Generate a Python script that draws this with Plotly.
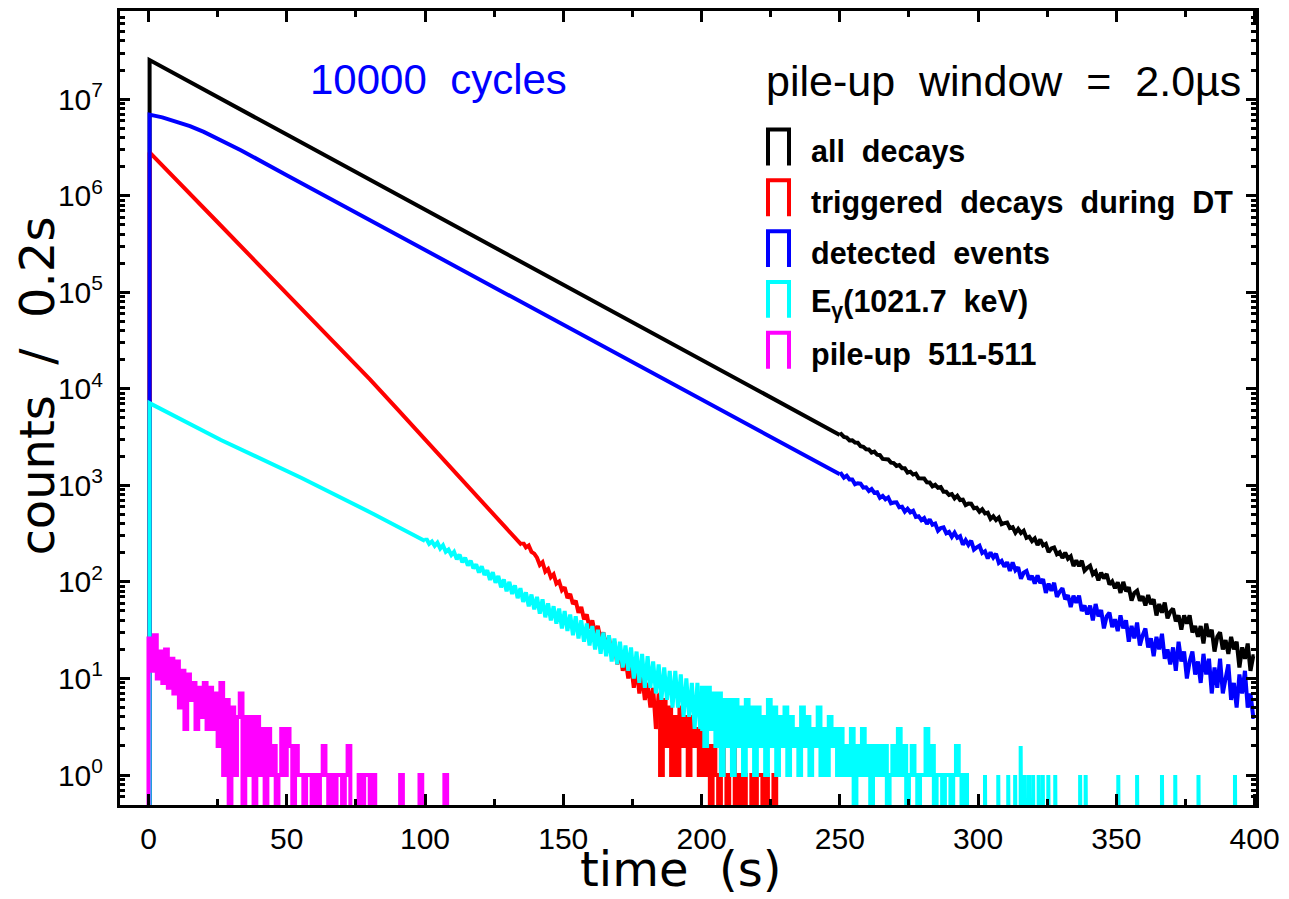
import plotly.graph_objects as go

# ---------------- data (counts per 0.2 s bin) ----------------
FLOOR = 0.1  # drawing level for empty bins (below visible range)

# smooth early parts (time s, counts)
black_head_t = [0.4, 50, 100, 150, 200, 250]
black_head_n = [2.535e7, 4.29e6, 7.16e5, 1.195e5, 2.0e4, 3330]

blue_head_t = [0.4, 5, 10, 15, 20, 25, 33.4, 50, 75, 100, 125, 150, 175, 200, 225, 250]
blue_head_n = [6.9e6, 6.46e6, 5.89e6, 5.25e6, 4.57e6, 3.89e6, 2.95e6, 1.63e6, 6.68e5,
               2.74e5, 1.12e5, 4.6e4, 1.88e4, 7.73e3, 3.16e3, 1.30e3]

red_head_t = [0.4, 25, 54, 80, 90, 100, 122, 135]
red_head_n = [2.8e6, 5.3e5, 7.4e4, 1.26e4, 6.15e3, 3.0e3, 600, 240]

cyan_head_t = [0.4, 26.2, 55.2, 81.7, 100]
cyan_head_n = [7100, 2950, 1200, 500, 265]

# noisy parts, 1 s bins
black_tail_start = 250
black_tail_n = [3399, 3173, 3119, 2916, 2933, 2772, 2759, 2543, 2505, 2362,
                2357, 2184, 2232, 2075, 2052, 1878, 1887, 1857, 1718, 1703,
                1589, 1622, 1506, 1501, 1356, 1385, 1293, 1320, 1186, 1186,
                1178, 1075, 1070, 978, 1014, 944, 960, 858, 857, 795,
                813, 732, 779, 705, 710, 625, 647, 645, 579, 586,
                533, 566, 513, 522, 450, 479, 437, 464, 396, 407,
                413, 361, 369, 323, 353, 321, 339, 286, 294, 265,
                282, 241, 275, 239, 248, 204, 222, 227, 194, 203,
                177, 201, 174, 184, 146, 167, 146, 166, 131, 140,
                147, 120, 128, 104, 125, 109, 121, 94, 101, 86,
                99, 77, 100, 80, 88, 64, 77, 81, 64, 71,
                57, 73, 59, 66, 45, 59, 48, 61, 42, 49,
                53, 39, 45, 32, 45, 37, 45, 30, 35, 27,
                35, 23, 37, 27, 32, 19, 27, 30, 20, 25,
                18, 27, 20, 24, 13, 21, 16, 23, 12, 17]

blue_tail_start = 250
blue_tail_n = [1319, 1200, 1258, 1151, 1151, 1028, 1053, 1044, 948, 953,
               876, 917, 837, 847, 742, 778, 716, 749, 652, 663,
               668, 594, 600, 535, 573, 526, 546, 471, 479, 436,
               458, 399, 444, 392, 402, 339, 362, 367, 319, 330,
               293, 324, 286, 297, 243, 271, 242, 267, 216, 228,
               237, 199, 208, 175, 202, 179, 196, 157, 165, 144,
               160, 130, 159, 132, 142, 108, 125, 130, 106, 115,
               96, 117, 97, 107, 77, 96, 81, 98, 70, 79,
               86, 66, 73, 55, 72, 61, 72, 50, 57, 46,
               57, 40, 59, 44, 51, 33, 44, 48, 34, 41,
               31, 45, 33, 40, 24, 35, 26, 38, 22, 28,
               33, 21, 26, 17, 27, 20, 29, 16, 20, 14,
               21, 12, 24, 15, 19, 10, 15, 19, 11, 15,
               9, 18, 11, 16, 7, 13, 8, 16, 7, 10,
               14, 6, 9, 5, 11, 7, 12, 5, 7, 4]

red_mid_start = 135
red_mid_n = [255, 228, 238, 205, 196, 178, 150, 160, 128, 136,
             112, 120, 96, 101, 82, 88, 68, 75, 59, 64,
             48, 55, 41, 46, 33, 40, 29, 35, 25, 30,
             20, 27, 17, 24, 14, 20, 12, 16, 10, 14,
             8, 13, 7, 11, 6, 9, 5, 8, 3, 7]
red_low_start = 185
red_low_n = [1, 6, 2, 5, 1, 4, 1, 5, 2, 4,
             1, 4, 2, 3, 1, 3, 1, 2, 0, 2,
             1, 0, 2, 1, 0, 1, 2, 0, 1, 0,
             1, 0, 0, 1, 0, 1, 1, 0, 1, 0,
             0, 1, 0, 0]

cyan_mid_start = 100
cyan_mid_n = [280, 248, 262, 236, 255, 222, 240, 205, 216, 190,
              205, 172, 192, 160, 178, 148, 166, 138, 152, 125,
              145, 118, 132, 105, 126, 98, 115, 88, 106, 80,
              100, 75, 92, 68, 86, 62, 78, 56, 74, 52,
              70, 47, 66, 43, 60, 40, 56, 37, 53, 33,
              50, 31, 46, 28, 44, 26, 40, 24, 37, 22,
              35, 20, 32, 18, 30, 17, 28, 15, 26, 14,
              24, 13, 22, 12, 21, 10, 19, 9, 18, 8,
              17, 8, 15, 7, 14, 6, 13, 6, 12, 5,
              12, 5, 11, 4, 10, 4, 9, 3, 9, 3]
cyan_low_start = 200
cyan_low_n = [8, 2, 8, 3, 7, 2, 7, 1, 6, 2,
              6, 1, 6, 2, 5, 1, 6, 2, 5, 1,
              5, 2, 4, 1, 6, 2, 5, 1, 4, 2,
              5, 1, 4, 2, 3, 1, 5, 2, 4, 1,
              3, 2, 5, 1, 3, 1, 4, 2, 3, 1,
              3, 1, 2, 1, 3, 0, 2, 1, 3, 1,
              2, 0, 2, 1, 2, 1, 2, 0, 1, 2,
              1, 3, 1, 2, 0, 1, 2, 1, 0, 1,
              1, 3, 1, 2, 0, 1, 1, 0, 1, 1,
              0, 1, 2, 1, 0, 1, 0, 0, 0, 0,
              0]

# isolated single-bin counts in the late cyan tail
cyan_spike_t = [302.6, 307.4, 311, 313.5, 315.5, 317, 318.5, 320, 322, 323.5, 325.5, 328,
                337, 339, 350.8, 357.6, 366.6, 371.4, 379.8, 393]
cyan_spike_n = [1, 1, 1, 1, 2, 1, 1, 1, 1, 1, 1, 1, 1, 1, 1, 1, 1, 1, 1, 1]

magenta_start = 0
magenta_n = [26, 12, 28, 10, 19, 9, 20, 8, 16, 7,
             15, 5, 12, 3, 11, 6, 9, 3, 8, 4,
             9, 3, 8, 3, 7, 2, 9, 1, 6, 0,
             5, 1, 4, 7, 0, 4, 1, 4, 0, 4,
             1, 3, 0, 3, 1, 2, 0, 1, 3, 1,
             3, 2, 0, 2, 1, 1, 0, 1, 1, 0,
             1, 0, 1, 2, 1, 0, 1, 0, 1, 1,
             0, 1, 2, 0, 0, 0, 1, 0, 1, 1,
             0, 1, 0, 0, 0, 0, 0, 0, 0, 0,
             0, 1, 0, 0, 0, 0, 0, 0, 1, 0,
             0, 0, 0, 0, 0, 0, 0, 1, 0, 0,
             0]

BIN = 1  # width (s) of the noisy-part bins above

x_ticks = [0, 50, 100, 150, 200, 250, 300, 350, 400]
x_minor = [25, 75, 125, 175, 225, 275, 325, 375]
y_ticks = [1, 10, 100, 1e3, 1e4, 1e5, 1e6, 1e7]
y_ticktext = ["10<sup>%d</sup>" % k for k in range(8)]

legend_labels = ["all decays", "triggered decays during DT", "detected events",
                 "E<sub>γ</sub>(1021.7 keV)", "pile-up 511-511"]
COL = {"black": "#000000", "red": "#ff0000", "blue": "#0000ff", "cyan": "#00ffff", "magenta": "#ff00ff"}
legend_colors = [COL["black"], COL["red"], COL["blue"], COL["cyan"], COL["magenta"]]

FONT = "Liberation Sans"
TFONT = "DejaVu Sans"
LW = 4


# ---------------- helpers ----------------
def lvl(n):
    return n if n > 0 else FLOOR


def head_xy(ts, ns):
    return [ts[0]] + list(ts), [FLOOR] + list(ns)


def step_xy(start, counts, close_left=False):
    xs, ys = [], []
    if close_left:
        xs.append(start)
        ys.append(FLOOR)
    for i, n in enumerate(counts):
        xs.append(start + i * BIN)
        ys.append(lvl(n))
    xs.append(start + len(counts) * BIN)
    ys.append(ys[-1])
    return xs, ys


def center_xy(start, counts, join=None, close_right=False):
    xs, ys = [], []
    if join is not None:
        xs.append(join[0])
        ys.append(join[1])
    for i, n in enumerate(counts):
        xs.append(start + (i + 0.5) * BIN)
        ys.append(lvl(n))
    if close_right:
        xs.append(start + len(counts) * BIN)
        ys.append(ys[-1])
    return xs, ys


def spikes_xy(times, counts, half=0.1):
    xs, ys = [], []
    for t, n in zip(times, counts):
        xs += [t - half, t - half, t + half, t + half]
        ys += [FLOOR, n, n, FLOOR]
    return xs, ys


fig = go.Figure()


def add_line(x, y, color, shape="linear"):
    fig.add_trace(go.Scatter(x=x, y=y, mode="lines", showlegend=False, hoverinfo="skip",
                             line=dict(color=color, width=LW, shape=shape)))


# draw order: black, red, blue, cyan, magenta
x, y = head_xy(black_head_t, black_head_n); add_line(x, y, COL["black"])
x, y = center_xy(black_tail_start, black_tail_n, (black_head_t[-1], black_head_n[-1]), True)
add_line(x, y, COL["black"])

x, y = head_xy(red_head_t, red_head_n); add_line(x, y, COL["red"])
x, y = center_xy(red_mid_start, red_mid_n, (red_head_t[-1], red_head_n[-1]))
add_line(x, y, COL["red"])
x, y = step_xy(red_low_start, red_low_n)
x, y = [red_mid_start + (len(red_mid_n) - 0.5) * BIN] + x, [red_mid_n[-1]] + y
add_line(x, y, COL["red"], "hv")

x, y = head_xy(blue_head_t, blue_head_n); add_line(x, y, COL["blue"])
x, y = center_xy(blue_tail_start, blue_tail_n, (blue_head_t[-1], blue_head_n[-1]), True)
add_line(x, y, COL["blue"])

x, y = head_xy(cyan_head_t, cyan_head_n); add_line(x, y, COL["cyan"])
x, y = center_xy(cyan_mid_start, cyan_mid_n, (cyan_head_t[-1], cyan_head_n[-1]))
add_line(x, y, COL["cyan"])
x, y = step_xy(cyan_low_start, cyan_low_n)
x, y = [cyan_mid_start + (len(cyan_mid_n) - 0.5) * BIN] + x, [cyan_mid_n[-1]] + y
add_line(x, y, COL["cyan"], "hv")
x, y = spikes_xy(cyan_spike_t, cyan_spike_n); add_line(x, y, COL["cyan"])

x, y = step_xy(magenta_start, magenta_n, close_left=True); add_line(x, y, COL["magenta"], "hv")

# ---------------- layout ----------------
W, H = 1289, 899
L, R, T, B = 120, 1256, 8, 805


def px(xp):
    return (xp - L) / (R - L)


def py(yp):
    return (B - yp) / (B - T)


NB = "\u00a0"
annotations = [
    dict(text="10000" + NB * 2 + "cycles", x=px(438), y=py(77), xanchor="center", yanchor="middle",
         font=dict(family=FONT, size=42, color=COL["blue"])),
    dict(text="pile-up" + NB * 2 + "window" + NB * 2 + "=" + NB * 2 + "2.0µs", x=px(764), y=py(78),
         xanchor="left", yanchor="middle", font=dict(family=FONT, size=43, color="black")),
    dict(text="time" + NB * 2 + "(s)", x=px(680), y=py(869), xanchor="center", yanchor="middle",
         font=dict(family=TFONT, size=48, color="black")),
    dict(text="counts" + NB * 2 + "/" + NB * 2 + "0.2s", x=px(37), y=py(385), xanchor="center",
         yanchor="middle", textangle=-90, font=dict(family=TFONT, size=48, color="black")),
]
shapes = []
for i, (lab, col) in enumerate(zip(legend_labels, legend_colors)):
    top = 127 + 51 * i
    bot = top + 36
    shapes.append(dict(type="path", xref="paper", yref="paper",
                       path="M %f %f L %f %f L %f %f L %f %f" % (px(768), py(bot), px(768), py(top),
                                                                 px(789), py(top), px(789), py(bot)),
                       line=dict(color=col, width=LW)))
    annotations.append(dict(text="<b>" + lab.replace(" ", NB * 2) + "</b>", x=px(809), y=py(top + 22),
                            xanchor="left", yanchor="middle",
                            font=dict(family=FONT, size=30.5, color="black")))

for a in annotations:
    a.setdefault("xref", "paper")
    a.setdefault("yref", "paper")
    a["showarrow"] = False

fig.update_layout(
    width=W, height=H,
    margin=dict(l=L, r=W - R, t=T, b=H - B),
    paper_bgcolor="white", plot_bgcolor="white",
    annotations=annotations, shapes=shapes,
    font=dict(family=FONT, color="black"),
)
fig.update_xaxes(
    range=[-10.3, 400.5], showgrid=False, zeroline=False,
    showline=True, linewidth=3, linecolor="black", mirror="allticks",
    ticks="inside", ticklen=11, tickwidth=3, tickcolor="black",
    tickvals=x_ticks, ticktext=[str(v) for v in x_ticks],
    tickfont=dict(family=FONT, size=30, color="black"), ticklabelstandoff=5,
    minor=dict(ticks="inside", ticklen=6, tickwidth=3, tickcolor="black",
               tickvals=x_minor, showgrid=False),
)
fig.update_yaxes(
    type="log", range=[-0.31, 7.912], showgrid=False, zeroline=False,
    showline=True, linewidth=3, linecolor="black", mirror="allticks",
    ticks="inside", ticklen=10, tickwidth=3, tickcolor="black",
    tickvals=y_ticks, ticktext=y_ticktext,
    tickfont=dict(family=FONT, size=30, color="black"), ticklabelstandoff=8,
    minor=dict(ticks="inside", ticklen=5, tickwidth=3, tickcolor="black", dtick="D1", showgrid=False),
)

fig.write_html("out.html", config={"displayModeBar": False},
               post_script="document.body.style.margin='0px';")
